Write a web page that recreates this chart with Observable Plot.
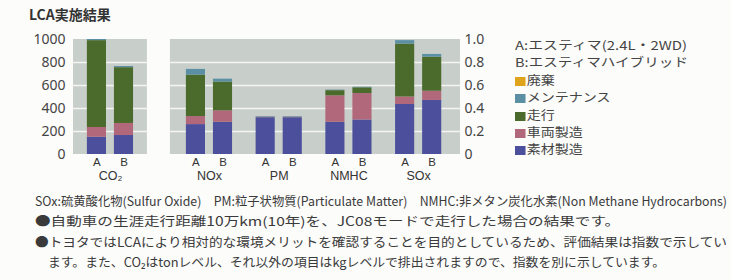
<!DOCTYPE html>
<html><head><meta charset="utf-8">
<script src="https://cdn.jsdelivr.net/npm/d3@7"></script>
<script src="https://cdn.jsdelivr.net/npm/@observablehq/plot@0.6"></script>
<style>
html,body{margin:0;padding:0}
body{background:#fcfcfa;width:731px;height:280px;overflow:hidden;position:relative;font-family:"Noto Sans CJK JP","Noto Sans",sans-serif;color:#3a3a3a}
#title{position:absolute;left:29px;top:4px;font-size:14px;font-weight:bold;color:#333;white-space:nowrap}
#chart{position:absolute;left:0;top:28px}
.lg{position:absolute;left:515px;font-size:12px;line-height:17px;height:17px;white-space:nowrap;color:#444;transform-origin:0 50%}
.lg .sw{display:inline-block;width:8.5px;height:9px;margin-right:1.5px;vertical-align:-1px}
.fit{position:absolute;white-space:nowrap;transform-origin:0 50%;font-size:12.5px;color:#3a3a3a}
</style></head>
<body>
<div id="title">LCA実施結果</div>
<div id="chart"></div>
<div id="legend"></div>
<div id="notes"></div>
<script>
// ---- data ----
const groups = ["CO₂", "NOx", "PM", "NMHC", "SOx"];
const variants = ["A", "B"];
const variantNames = ["A:エスティマ(2.4L・2WD)", "B:エスティマハイブリッド"];
const stages = ["素材製造", "車両製造", "走行", "メンテナンス", "廃棄"];
const stageColors = ["#4b4f9c", "#b0687a", "#4a6b2b", "#5b8fa3", "#e0a41c"];
// values ordered: CO2 A, CO2 B, NOx A, NOx B, PM A, PM B, NMHC A, NMHC B, SOx A, SOx B
// CO2 on the 0–1000 index (left axis), the others on the 0–1.0 index (right axis)
const material    = [150, 165, 0.26, 0.28, 0.32, 0.32, 0.28, 0.30, 0.435, 0.47];
const vehicle     = [85, 105, 0.07, 0.10, 0.005, 0.005, 0.23, 0.23, 0.065, 0.08];
const driving     = [755, 485, 0.36, 0.25, 0, 0, 0.045, 0.05, 0.46, 0.296];
const maintenance = [10, 10, 0.05, 0.025, 0.005, 0.005, 0.005, 0.005, 0.03, 0.024];
const disposal    = [0, 0, 0, 0, 0, 0, 0, 0, 0, 0];
const leftTicks = [0, 200, 400, 600, 800, 1000];
const rightTicks = [0, 0.2, 0.4, 0.6, 0.8, 1.0];
const notes = [
  "SOx:硫黄酸化物(Sulfur Oxide)　PM:粒子状物質(Particulate Matter)　NMHC:非メタン炭化水素(Non Methane Hydrocarbons)",
  "●自動車の生涯走行距離10万km(10年)を、JC08モードで走行した場合の結果です。",
  "●トヨタではLCAにより相対的な環境メリットを確認することを目的としているため、評価結果は指数で示してい",
  "ます。また、CO₂はtonレベル、それ以外の項目はkgレベルで排出されますので、指数を別に示しています。"
];

// ---- build ----
const series = [material, vehicle, driving, maintenance, disposal];
const groupPos = groups.map((g, i) => i + (i > 0 ? 0.42 : 0));
const off = 0.194, half = 0.137;
const rects = [];
const barLabels = [];
groups.forEach((g, gi) => {
  variants.forEach((v, vi) => {
    const k = gi * 2 + vi;
    const cx = groupPos[gi] + (vi === 0 ? -off : off);
    barLabels.push({x: cx, label: v});
    let acc = 0;
    stages.forEach((s, si) => {
      const raw = series[si][k];
      const val = gi === 0 ? raw / 1000 : raw;
      if (val > 0) rects.push({x1: cx - half, x2: cx + half, y1: acc, y2: acc + val, stage: s});
      acc += val;
    });
  });
});
const panels = [
  {x1: groupPos[0] - 0.53, x2: groupPos[0] + 0.53},
  {x1: groupPos[1] - 0.56, x2: groupPos[4] + 0.6}
];
const grid = [];
panels.forEach(p => rightTicks.slice(1, -1).forEach(t => grid.push({...p, y: t})));
const groupLabels = groups.map((g, i) => ({x: groupPos[i], label: g}));

const fontFam = "'Noto Sans','Noto Sans CJK JP',sans-serif";
const labelFont = "'Liberation Sans','DejaVu Sans',sans-serif";
const plot = Plot.plot({
  width: 731,
  height: 156,
  marginLeft: 73,
  marginRight: 271,
  marginTop: 11,
  marginBottom: 30,
  style: {background: "transparent", fontFamily: fontFam, color: "#444", overflow: "visible"},
  x: {type: "linear", domain: [panels[0].x1, panels[1].x2], axis: null},
  y: {domain: [0, 1], axis: null},
  color: {domain: stages, range: stageColors},
  marks: [
    Plot.rect(panels, {x1: "x1", x2: "x2", y1: 0, y2: 1, fill: "#c8cec9"}),
    Plot.ruleY(grid, {y: "y", x1: "x1", x2: "x2", stroke: "#f4f5f2", strokeWidth: 1.6}),
    Plot.rect(rects, {x1: "x1", x2: "x2", y1: "y1", y2: "y2", fill: "stage"}),
    Plot.axisY({anchor: "left", ticks: rightTicks, tickSize: 0, tickPadding: 8, tickFormat: d => String(Math.round(d * 1000)), fontSize: 14, fill: "#444", label: null}),
    Plot.axisY({anchor: "right", ticks: rightTicks, tickSize: 0, tickPadding: 4, tickFormat: d => d === 0 ? "0" : d.toFixed(1), fontSize: 14, fill: "#444", label: null}),
    Plot.text(barLabels, {x: "x", y: 0, text: "label", dy: 8, fontSize: 11.5, fontFamily: labelFont, fill: "#333"}),
    Plot.text(groupLabels, {x: "x", y: 0, text: "label", dy: 21.5, fontSize: 12.5, fontFamily: labelFont, fill: "#333"})
  ]
});
document.getElementById("chart").appendChild(plot);

// legend
const lg = document.getElementById("legend");
const legendRows = [];
variantNames.forEach(n => legendRows.push({text: n, color: null}));
stages.slice().reverse().forEach(s => legendRows.push({text: s, color: stageColors[stages.indexOf(s)]}));
const legendWidths = [172, 173, null, null, null, null, null];
legendRows.forEach((r, i) => {
  const d = document.createElement("div");
  d.className = "lg";
  d.style.top = (36 + i * 17.4) + "px";
  if (r.color) {
    const sw = document.createElement("span");
    sw.className = "sw";
    sw.style.background = r.color;
    d.appendChild(sw);
  }
  d.appendChild(document.createTextNode(r.text));
  lg.appendChild(d);
  const nat = d.getBoundingClientRect().width;
  const sx = legendWidths[i] ? legendWidths[i] / nat : 1.17;
  d.style.transform = `scaleX(${sx})`;
});

// notes
const noteLayout = [[35, 191, 692], [35, 211, 585], [35, 232, 692], [48, 252, 617]];
const nb = document.getElementById("notes");
notes.forEach((t, i) => {
  const d = document.createElement("div");
  d.className = "fit";
  d.textContent = t;
  d.style.left = noteLayout[i][0] + "px";
  d.style.top = noteLayout[i][1] + "px";
  nb.appendChild(d);
  const nat = d.getBoundingClientRect().width;
  d.style.transform = `scaleX(${noteLayout[i][2] / nat})`;
});
</script>
</body></html>
